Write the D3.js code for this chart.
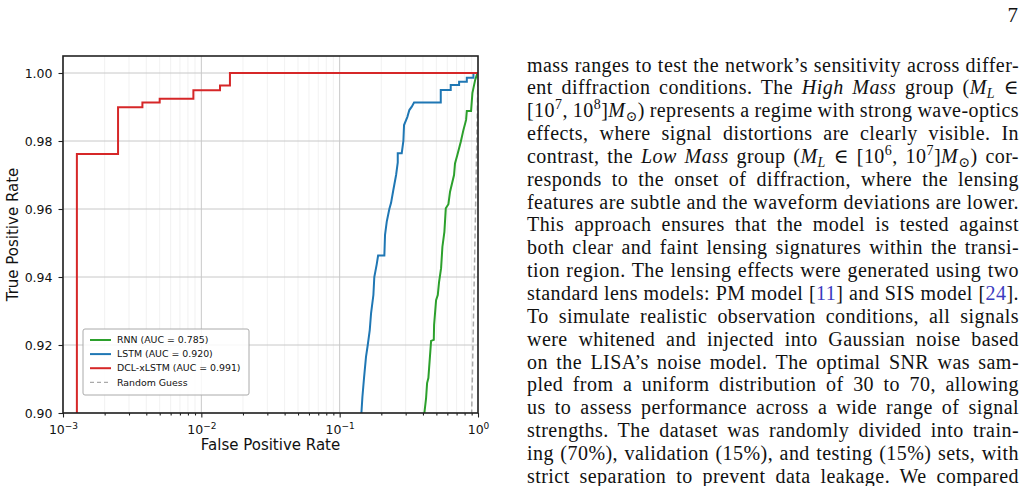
<!DOCTYPE html>
<html lang="en">
<head>
<meta charset="UTF-8">
<title>ROC curves</title>
<script src="https://cdn.jsdelivr.net/npm/d3@7"></script>
<style>
  body { margin: 0; background: #fff; }
  svg { display: block; }
</style>
</head>
<body>
<svg id="page" width="1027" height="486"></svg>
<script>
// ROC points (fpr, tpr)
const rnnFpr  = [0.409, 0.4096, 0.4214, 0.4285, 0.4378, 0.458, 0.479, 0.4815, 0.4977, 0.512, 0.5232, 0.541, 0.553, 0.5715, 0.585, 0.611, 0.628, 0.671, 0.682, 0.709, 0.751, 0.784, 0.820, 0.830, 0.891, 0.911, 0.953, 0.99, 1.0];
const rnnTpr  = [0.0, 0.900, 0.9044, 0.9088, 0.9103, 0.9212, 0.9215, 0.9259, 0.9332, 0.9347, 0.9386, 0.9426, 0.9489, 0.9533, 0.9602, 0.9614, 0.9651, 0.970, 0.9734, 0.9759, 0.9798, 0.9832, 0.9862, 0.9888, 0.9888, 0.9941, 0.9979, 1.0, 1.0];

const lstmFpr = [0.143, 0.1436, 0.146, 0.150, 0.155, 0.1596, 0.165, 0.1687, 0.1753, 0.178, 0.1854, 0.1896, 0.2104, 0.2128, 0.219, 0.2286, 0.2353, 0.2443, 0.2558, 0.263, 0.263, 0.281, 0.2888, 0.292, 0.3087, 0.319, 0.3321, 0.345, 0.538, 0.538, 0.635, 0.635, 0.730, 0.730, 0.830, 0.830, 0.927, 0.927, 1.0];
const lstmTpr = [0.0, 0.900, 0.9047, 0.9103, 0.9165, 0.920, 0.9244, 0.9294, 0.9347, 0.940, 0.9438, 0.9463, 0.9463, 0.9524, 0.9563, 0.960, 0.9618, 0.9656, 0.970, 0.9737, 0.9764, 0.9764, 0.980, 0.9847, 0.9871, 0.9891, 0.9901, 0.9913, 0.9913, 0.995, 0.995, 0.9965, 0.9965, 0.9974, 0.9974, 0.9986, 0.9986, 1.0, 1.0];

const dclFpr  = [0.00126, 0.00126, 0.0025, 0.0025, 0.00375, 0.00375, 0.005, 0.005, 0.00876, 0.00876, 0.01365, 0.01365, 0.0161, 0.0161, 1.0];
const dclTpr  = [0.0, 0.9762, 0.9762, 0.9899, 0.9899, 0.9913, 0.9913, 0.9924, 0.9924, 0.9949, 0.9949, 0.9963, 0.9963, 1.0, 1.0];

const guessFpr = [0.001, 0.01, 0.1, 0.5, 0.8, 0.9, 0.95, 1.0];
const guessTpr = [0.001, 0.01, 0.1, 0.5, 0.8, 0.9, 0.95, 1.0];

const legendLabels = ["RNN (AUC = 0.785)", "LSTM (AUC = 0.920)", "DCL-xLSTM (AUC = 0.991)", "Random Guess"];
const xTickValues = [1e-3, 1e-2, 1e-1, 1];
const xTickExps = ["−3", "−2", "−1", "0"];
const yTickValues = [0.90, 0.92, 0.94, 0.96, 0.98, 1.00];

// page text on the right, one entry per printed line
const bodyLines = [
  ["mass ranges to test the network’s sensitivity across differ-"],
  ["ent diffraction conditions. The ", ["High Mass", "i"], " group (", ["M", "i"], ["L", "isub"], " ∈"],
  ["[10", ["7", "sup"], ", 10", ["8", "sup"], "]", ["M", "i"], ["⊙", "sub"], ") represents a regime with strong wave-optics"],
  ["effects, where signal distortions are clearly visible. In"],
  ["contrast, the ", ["Low Mass", "i"], " group (", ["M", "i"], ["L", "isub"], " ∈ [10", ["6", "sup"], ", 10", ["7", "sup"], "]", ["M", "i"], ["⊙", "sub"], ") cor-"],
  ["responds to the onset of diffraction, where the lensing"],
  ["features are subtle and the waveform deviations are lower."],
  ["This approach ensures that the model is tested against"],
  ["both clear and faint lensing signatures within the transi-"],
  ["tion region. The lensing effects were generated using two"],
  ["standard lens models: PM model [", ["11", "cite"], "] and SIS model [", ["24", "cite"], "]."],
  ["To simulate realistic observation conditions, all signals"],
  ["were whitened and injected into Gaussian noise based"],
  ["on the LISA’s noise model. The optimal SNR was sam-"],
  ["pled from a uniform distribution of 30 to 70, allowing"],
  ["us to assess performance across a wide range of signal"],
  ["strengths. The dataset was randomly divided into train-"],
  ["ing (70%), validation (15%), and testing (15%) sets, with"],
  ["strict separation to prevent data leakage. We compared"]
];

const svg = d3.select("#page");
svg.append("rect").attr("width", 1027).attr("height", 486).attr("fill", "#fff");

const box = {left: 63, top: 56, right: 478, bottom: 413};
const x = d3.scaleLog().domain([1e-3, 1]).range([box.left, box.right]);
const y = d3.scaleLinear().domain([0.90, 1.005]).range([box.bottom, box.top]);
const sans = "'DejaVu Sans', sans-serif";

// grid
const minorX = x.ticks().filter(v => !xTickValues.some(t => Math.abs(t - v) < v * 1e-6));
svg.append("g").selectAll("line").data(minorX).join("line")
   .attr("x1", d => x(d)).attr("x2", d => x(d))
   .attr("y1", box.top).attr("y2", box.bottom)
   .attr("stroke", "#ededed").attr("stroke-width", 0.8);
svg.append("g").selectAll("line").data(xTickValues).join("line")
   .attr("x1", d => x(d)).attr("x2", d => x(d))
   .attr("y1", box.top).attr("y2", box.bottom)
   .attr("stroke", "#c8c8c8").attr("stroke-width", 1);
svg.append("g").selectAll("line").data(yTickValues).join("line")
   .attr("x1", box.left).attr("x2", box.right)
   .attr("y1", d => y(d)).attr("y2", d => y(d))
   .attr("stroke", "#c8c8c8").attr("stroke-width", 1);

// curves
svg.append("clipPath").attr("id", "plotclip")
   .append("rect").attr("x", box.left).attr("y", box.top)
   .attr("width", box.right - box.left).attr("height", box.bottom - box.top);

const line = d3.line().x(d => x(d[0])).y(d => y(d[1]));
const plot = svg.append("g").attr("clip-path", "url(#plotclip)");
const series = [
  {fpr: rnnFpr, tpr: rnnTpr, color: "#2ca02c"},
  {fpr: lstmFpr, tpr: lstmTpr, color: "#1f77b4"},
  {fpr: dclFpr, tpr: dclTpr, color: "#d62728"}
];
series.forEach(s => {
  plot.append("path")
      .datum(s.fpr.map((f, i) => [f, s.tpr[i]]))
      .attr("d", line)
      .attr("fill", "none")
      .attr("stroke", s.color)
      .attr("stroke-width", 2)
      .attr("stroke-linejoin", "miter");
});
plot.append("path")
    .datum(guessFpr.map((f, i) => [f, guessTpr[i]]))
    .attr("d", line)
    .attr("fill", "none")
    .attr("stroke", "#aaa")
    .attr("stroke-width", 1.5)
    .attr("stroke-dasharray", "5,3");

// axes
const xAxis = svg.append("g")
   .attr("transform", `translate(0,${box.bottom})`)
   .call(d3.axisBottom(x).tickValues(xTickValues).tickSize(4.5).tickSizeOuter(0).tickFormat(""));
svg.append("g")
   .attr("transform", `translate(0,${box.bottom})`)
   .call(d3.axisBottom(x).tickValues(minorX).tickSize(2.5).tickSizeOuter(0).tickFormat(""))
   .call(g => g.select(".domain").remove());
xAxis.select(".domain").remove();
xAxis.selectAll(".tick").each(function(d, i) {
  const t = d3.select(this).append("text")
     .attr("y", 21).attr("text-anchor", "middle")
     .attr("fill", "#111").style("font-family", sans).style("font-size", "12.5px");
  t.append("tspan").text("10");
  t.append("tspan").attr("dy", -5.5).style("font-size", "9px").text(xTickExps[i]);
});

const yAxis = svg.append("g")
   .attr("transform", `translate(${box.left},0)`)
   .call(d3.axisLeft(y).tickValues(yTickValues).tickSize(4.5).tickSizeOuter(0).tickPadding(6)
          .tickFormat(d3.format(".2f")));
yAxis.select(".domain").remove();
yAxis.selectAll("text").attr("fill", "#111").style("font-family", sans).style("font-size", "12.5px");
svg.selectAll(".tick line").attr("stroke", "#222").attr("stroke-width", 1.1);

svg.append("rect")
   .attr("x", box.left).attr("y", box.top)
   .attr("width", box.right - box.left).attr("height", box.bottom - box.top)
   .attr("fill", "none").attr("stroke", "#222").attr("stroke-width", 1.6);

svg.append("text")
   .attr("x", (box.left + box.right) / 2).attr("y", 450)
   .attr("text-anchor", "middle").attr("fill", "#111")
   .style("font-family", sans).style("font-size", "15px")
   .text("False Positive Rate");
svg.append("text")
   .attr("transform", `translate(18,${(box.top + box.bottom) / 2}) rotate(-90)`)
   .attr("text-anchor", "middle").attr("fill", "#111")
   .style("font-family", sans).style("font-size", "15px")
   .text("True Positive Rate");

// legend
const legend = svg.append("g").attr("transform", "translate(83,329)");
legend.append("rect").attr("width", 166).attr("height", 66).attr("rx", 2)
      .attr("fill", "#fff").attr("fill-opacity", 0.85).attr("stroke", "#aaa").attr("stroke-width", 1);
const legendColors = ["#2ca02c", "#1f77b4", "#d62728", "#aaa"];
legendLabels.forEach((lab, i) => {
  const row = legend.append("g").attr("transform", `translate(0,${11 + i * 14.1})`);
  row.append("line").attr("x1", 7).attr("x2", 28)
     .attr("stroke", legendColors[i]).attr("stroke-width", i === 3 ? 1.3 : 2)
     .attr("stroke-dasharray", i === 3 ? "4,3" : null);
  row.append("text").attr("x", 34).attr("dy", "0.35em")
     .attr("fill", "#111").style("font-family", sans).style("font-size", "9.4px")
     .text(lab);
});

// page number and body text
const serif = "'Liberation Serif', 'DejaVu Serif', serif";
svg.append("text").attr("x", 1018).attr("y", 22).attr("text-anchor", "end")
   .attr("fill", "#111").style("font-family", serif).style("font-size", "21px").text("7");

const textLeft = 527, textRight = 1019;
bodyLines.forEach((segs, i) => {
  const t = svg.append("text")
     .attr("x", textLeft).attr("y", 71.5 + i * 22.85)
     .attr("fill", "#111").style("font-family", serif).style("font-size", "20px")
     .style("letter-spacing", "0.45px")
     .attr("xml:space", "preserve");
  let shift = 0;
  segs.forEach(seg => {
    const [str, kind] = typeof seg === "string" ? [seg, ""] : seg;
    let target = 0;
    const ts = t.append("tspan").text(str);
    if (kind === "i" || kind === "isub") ts.style("font-style", "italic");
    if (kind === "sub" || kind === "isub") { target = 4; ts.style("font-size", "14px"); }
    if (kind === "sup") { target = -8; ts.style("font-size", "14px"); }
    if (kind === "cite") ts.attr("fill", "#3b3bbf");
    if (target !== shift) ts.attr("dy", target - shift);
    shift = target;
  });
  const spaces = (t.text().match(/ /g) || []).length;
  const natural = t.node().getComputedTextLength();
  if (spaces > 0) t.style("word-spacing", ((textRight - textLeft - natural) / spaces) + "px");
});
</script>
</body>
</html>
